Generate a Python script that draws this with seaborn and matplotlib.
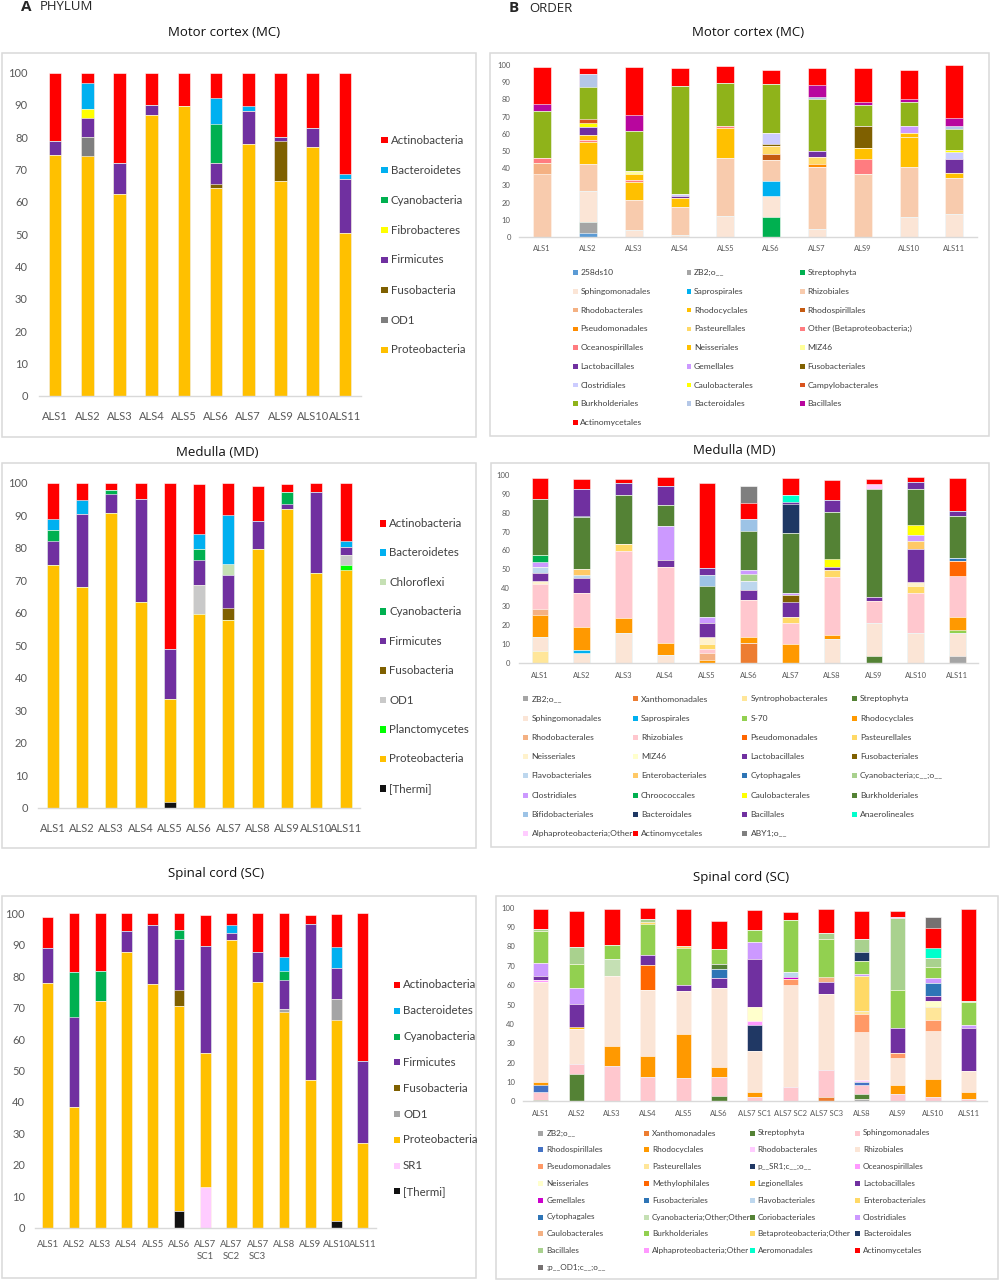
import matplotlib
matplotlib.use("Agg")
import matplotlib.pyplot as plt
from matplotlib.patches import Rectangle
import numpy as np
import seaborn as sns

W, H = 1000, 1282

# ---------------- phylum data (% per sample, bottom -> top) ----------------
MC_SAMPLES = ["ALS1", "ALS2", "ALS3", "ALS4", "ALS5", "ALS6", "ALS7", "ALS9", "ALS10", "ALS11"]
MC_PHYLUM = {
    "Proteobacteria": [74.5, 74.3, 62.5, 86.8, 89.8, 64.4, 77.8, 66.5, 76.9, 50.3],
    "OD1":            [0, 5.9, 0, 0, 0, 0, 0, 0, 0, 0],
    "Fusobacteria":   [0, 0, 0, 0, 0, 1.1, 0, 12.2, 0, 0],
    "Firmicutes":     [4.2, 5.7, 9.5, 3.2, 0, 6.5, 10.4, 1.5, 6.1, 16.8],
    "Fibrobacteres":  [0, 2.8, 0, 0, 0, 0, 0, 0, 0, 0],
    "Cyanobacteria":  [0, 0, 0, 0, 0, 12.0, 0, 0, 0, 0],
    "Bacteroidetes":  [0, 8.0, 0, 0, 0, 8.1, 1.6, 0, 0, 1.6],
    "Actinobacteria": [21.3, 3.1, 28.0, 10.0, 10.2, 7.7, 10.2, 19.6, 17.0, 31.3],
}

MD_SAMPLES = ["ALS1", "ALS2", "ALS3", "ALS4", "ALS5", "ALS6", "ALS7", "ALS8", "ALS9", "ALS10", "ALS11"]
MD_PHYLUM = {
    "[Thermi]":       [0, 0, 0, 0, 1.8, 0, 0, 0, 0, 0, 0],
    "Proteobacteria": [74.7, 68.0, 90.6, 63.4, 31.8, 59.6, 57.7, 79.6, 91.8, 72.3, 73.2],
    "Planctomycetes": [0, 0, 0, 0, 0, 0, 0, 0, 0, 0, 1.4],
    "OD1":            [0, 0, 0, 0, 0, 8.9, 0, 0, 0, 0, 3.3],
    "Fusobacteria":   [0, 0, 0, 0, 0, 0, 3.6, 0, 0, 0, 0],
    "Firmicutes":     [7.5, 22.4, 6.0, 31.6, 15.2, 7.7, 10.4, 8.6, 1.7, 24.9, 2.4],
    "Cyanobacteria":  [3.4, 0, 1.1, 0, 0, 3.5, 0, 0, 3.6, 0, 0],
    "Chloroflexi":    [0, 0, 0, 0, 0, 0, 3.3, 0, 0, 0, 0],
    "Bacteroidetes":  [3.2, 4.4, 0, 0, 0, 4.6, 15.0, 0, 0, 0, 1.7],
    "Actinobacteria": [11.2, 5.2, 2.3, 5.0, 51.2, 15.3, 10.0, 10.8, 2.4, 2.8, 18.0],
}

SC_SAMPLES = ["ALS1", "ALS2", "ALS3", "ALS4", "ALS5", "ALS6", "ALS7\nSC1", "ALS7\nSC2",
              "ALS7\nSC3", "ALS8", "ALS9", "ALS10", "ALS11"]
SC_PHYLUM = {
    "[Thermi]":       [0, 0, 0, 0, 0, 5.2, 0, 0, 0, 0, 0, 2.2, 0],
    "SR1":            [0, 0, 0, 0, 0, 0, 12.9, 0, 0, 0, 0, 0, 0],
    "Proteobacteria": [77.7, 38.4, 72.1, 87.6, 77.6, 65.2, 42.7, 91.6, 78.2, 68.5, 47.0, 64.0, 26.8],
    "OD1":            [0, 0, 0, 0, 0, 0, 0, 0, 0, 1.2, 0, 6.4, 0],
    "Fusobacteria":   [0, 0, 0, 0, 0, 5.2, 0, 0, 0, 0, 0, 0, 0],
    "Firmicutes":     [11.4, 28.5, 0, 6.7, 18.7, 16.1, 34.1, 2.1, 9.6, 9.0, 49.7, 10.1, 26.1],
    "Cyanobacteria":  [0, 14.5, 9.6, 0, 0, 3.1, 0, 0, 0, 3.0, 0, 0, 0],
    "Bacteroidetes":  [0, 0, 0, 0, 0, 0, 0, 2.5, 0, 4.4, 0, 6.7, 0],
    "Actinobacteria": [9.8, 18.6, 18.3, 5.7, 3.7, 5.2, 9.8, 3.8, 12.2, 13.9, 2.8, 10.4, 47.1],
}

PHYLUM_COLORS = {
    "Actinobacteria": "#FF0000", "Bacteroidetes": "#00B0F0", "Cyanobacteria": "#00B050",
    "Fibrobacteres": "#FFFF00", "Firmicutes": "#7030A0", "Fusobacteria": "#7F6000",
    "OD1": "#7F7F7F", "Proteobacteria": "#FFC000", "Chloroflexi": "#C5E0B4",
    "Planctomycetes": "#00FF00", "[Thermi]": "#111111", "SR1": "#FFCCFF",
}
OD1_LIGHT = {"MD": "#C9C9C9", "SC": "#A5A5A5"}

# ---------------- order data ----------------
MC_ORDERS = ["258ds10", "ZB2;o__", "Streptophyta", "Sphingomonadales", "Saprospirales",
             "Rhizobiales", "Rhodobacterales", "Rhodocyclales", "Rhodospirillales",
             "Pseudomonadales", "Pasteurellales", "Other (Betaproteobacteria;)",
             "Oceanospirillales", "Neisseriales", "MIZ46", "Lactobacillales", "Gemellales",
             "Fusobacteriales", "Clostridiales", "Caulobacterales", "Campylobacterales",
             "Burkholderiales", "Bacteroidales", "Bacillales", "Actinomycetales"]
MC_ORDER_COLORS = ["#5B9BD5", "#A5A5A5", "#00B050", "#FBE5D6", "#00B0F0", "#F8CBAD", "#F4B183",
                   "#FFC000", "#C55A11", "#FF8C00", "#FFD966", "#FF7C80", "#FF7C80", "#FFC000",
                   "#FFFF99", "#7030A0", "#CC99FF", "#7F6000", "#CCCCFF", "#FFFF00", "#D9531E",
                   "#8FB31A", "#B4C7E7", "#B8069E", "#FF0000"]
MC_ORDER = {
    "ALS1": [("Rhizobiales", 36.4), ("Rhodobacterales", 6.6), ("Oceanospirillales", 3.1),
             ("Burkholderiales", 27.3), ("Bacillales", 4.1), ("Actinomycetales", 21.5)],
    "ALS2": [("258ds10", 2.5), ("ZB2;o__", 6.2), ("Sphingomonadales", 18.2), ("Rhizobiales", 15.7),
             ("Rhodocyclales", 12.8), ("Other (Betaproteobacteria;)", 1.2), ("Neisseriales", 2.9),
             ("Lactobacillales", 4.5), ("Caulobacterales", 2.0), ("Campylobacterales", 2.6),
             ("Burkholderiales", 18.6), ("Bacteroidales", 7.8), ("Actinomycetales", 3.4)],
    "ALS3": [("Sphingomonadales", 3.9), ("Rhizobiales", 17.6), ("Rhodocyclales", 10.3),
             ("Other (Betaproteobacteria;)", 1.2), ("Neisseriales", 3.4), ("MIZ46", 2.0),
             ("Burkholderiales", 23.0), ("Bacillales", 9.5), ("Actinomycetales", 28.1)],
    "ALS4": [("Sphingomonadales", 1.4), ("Rhizobiales", 16.2), ("Rhodocyclales", 5.1),
             ("Lactobacillales", 1.1), ("Clostridiales", 1.0), ("Burkholderiales", 63.2),
             ("Actinomycetales", 10.0)],
    "ALS5": [("Sphingomonadales", 12.4), ("Rhizobiales", 33.5), ("Rhodocyclales", 17.7),
             ("Other (Betaproteobacteria;)", 1.1), ("Burkholderiales", 24.6), ("Actinomycetales", 10.3)],
    "ALS6": [("Streptophyta", 11.4), ("Sphingomonadales", 12.6), ("Saprospirales", 8.6),
             ("Rhizobiales", 12.0), ("Rhodospirillales", 3.8), ("Pasteurellales", 4.5),
             ("Fusobacteriales", 1.0), ("Clostridiales", 6.6), ("Burkholderiales", 28.6),
             ("Actinomycetales", 7.8)],
    "ALS7": [("Sphingomonadales", 4.8), ("Rhizobiales", 35.9), ("Pseudomonadales", 1.9),
             ("Pasteurellales", 3.9), ("Lactobacillales", 3.5), ("Burkholderiales", 30.0),
             ("Bacteroidales", 1.4), ("Bacillales", 7.0), ("Actinomycetales", 10.0)],
    "ALS9": [("Rhizobiales", 36.8), ("Oceanospirillales", 8.7), ("Neisseriales", 6.4),
             ("Fusobacteriales", 12.4), ("Burkholderiales", 12.4), ("Bacillales", 2.0),
             ("Actinomycetales", 19.3)],
    "ALS10": [("Sphingomonadales", 11.4), ("Rhizobiales", 29.1), ("Rhodocyclales", 17.6),
              ("Neisseriales", 2.2), ("Gemellales", 4.2), ("Burkholderiales", 13.8),
              ("Bacillales", 1.9), ("Actinomycetales", 16.7)],
    "ALS11": [("Sphingomonadales", 13.4), ("Rhizobiales", 20.7), ("Rhodocyclales", 3.3),
              ("Lactobacillales", 7.9), ("Clostridiales", 4.1), ("Caulobacterales", 1.4),
              ("Burkholderiales", 12.2), ("Bacteroidales", 1.3), ("Bacillales", 4.7),
              ("Actinomycetales", 31.0)],
}

MD_ORDERS = ["ZB2;o__", "Xanthomonadales", "Syntrophobacterales", "Streptophyta",
             "Sphingomonadales", "Saprospirales", "S-70", "Rhodocyclales", "Rhodobacterales",
             "Rhizobiales", "Pseudomonadales", "Pasteurellales", "Neisseriales", "MIZ46",
             "Lactobacillales", "Fusobacteriales", "Flavobacteriales", "Enterobacteriales",
             "Cytophagales", "Cyanobacteria;c__;o__", "Clostridiales", "Chroococcales",
             "Caulobacterales", "Burkholderiales", "Bifidobacteriales", "Bacteroidales",
             "Bacillales", "Anaerolineales", "Alphaproteobacteria;Other", "Actinomycetales",
             "ABY1;o__"]
MD_ORDER_COLORS = ["#A5A5A5", "#ED7D31", "#FFE699", "#548235", "#FBE5D6", "#00B0F0", "#92D050",
                   "#FF9900", "#F4B183", "#FFC7CE", "#FF6600", "#FFD966", "#FFF2CC", "#FFFFCC",
                   "#7030A0", "#7F6000", "#BDD7EE", "#FFC966", "#2E75B6", "#A9D18E", "#CC99FF",
                   "#00B050", "#FFFF00", "#548235", "#9DC3E6", "#1F3864", "#7030A0", "#00FFCC",
                   "#FFCCFF", "#FF0000", "#7F7F7F"]
MD_ORDER = {
    "ALS1": [("Syntrophobacterales", 6.0), ("Sphingomonadales", 7.9), ("Rhodocyclales", 11.5),
             ("Rhodobacterales", 3.4), ("Rhizobiales", 13.2), ("Neisseriales", 1.4),
             ("Lactobacillales", 4.6), ("Flavobacteriales", 3.2), ("Clostridiales", 2.7),
             ("Chroococcales", 3.6), ("Burkholderiales", 30.0), ("Actinomycetales", 10.9)],
    "ALS2": [("Sphingomonadales", 5.0), ("Saprospirales", 1.6), ("Rhodocyclales", 12.6),
             ("Rhizobiales", 18.2), ("Lactobacillales", 7.6), ("Flavobacteriales", 1.6),
             ("Enterobacteriales", 3.2), ("Burkholderiales", 27.8), ("Bacteroidales", 0.7),
             ("Bacillales", 14.6), ("Actinomycetales", 5.3)],
    "ALS3": [("Sphingomonadales", 16.0), ("Rhodocyclales", 8.0), ("Rhizobiales", 35.6),
             ("Pasteurellales", 3.7), ("Burkholderiales", 26.4), ("Bacillales", 6.0),
             ("Actinomycetales", 2.2)],
    "ALS4": [("Sphingomonadales", 4.1), ("Rhodocyclales", 6.4), ("Rhizobiales", 40.7),
             ("Lactobacillales", 3.6), ("Clostridiales", 18.0), ("Burkholderiales", 11.5),
             ("Bacillales", 9.8), ("Actinomycetales", 4.8)],
    "ALS5": [("Rhodocyclales", 1.4), ("Rhodobacterales", 3.6), ("Rhizobiales", 2.3),
             ("Pasteurellales", 2.7), ("Neisseriales", 3.5), ("Lactobacillales", 7.5),
             ("Clostridiales", 3.4), ("Burkholderiales", 16.7), ("Bifidobacteriales", 5.5),
             ("Bacillales", 3.9), ("Actinomycetales", 45.2)],
    "ALS6": [("Xanthomonadales", 10.3), ("Rhodocyclales", 3.2), ("Rhizobiales", 20.0),
             ("Lactobacillales", 5.5), ("Flavobacteriales", 4.6), ("Cyanobacteria;c__;o__", 3.6),
             ("Clostridiales", 2.3), ("Burkholderiales", 20.6), ("Bifidobacteriales", 6.6),
             ("Actinomycetales", 8.7), ("ABY1;o__", 8.9)],
    "ALS7": [("Rhodocyclales", 9.8), ("Rhizobiales", 11.6), ("Pasteurellales", 3.2),
             ("Lactobacillales", 7.6), ("Fusobacteriales", 3.7), ("Clostridiales", 1.5),
             ("Burkholderiales", 32.0), ("Bacteroidales", 15.3), ("Bacillales", 1.2),
             ("Anaerolineales", 3.4), ("Actinomycetales", 9.5)],
    "ALS8": [("Sphingomonadales", 12.5), ("Rhodocyclales", 2.1), ("Rhizobiales", 31.0),
             ("Pasteurellales", 3.9), ("Lactobacillales", 1.7), ("Caulobacterales", 4.3),
             ("Burkholderiales", 25.1), ("Bacillales", 6.2), ("Actinomycetales", 10.9)],
    "ALS9": [("Streptophyta", 3.4), ("Sphingomonadales", 17.8), ("Rhizobiales", 11.5),
             ("Lactobacillales", 2.2), ("Burkholderiales", 57.8),
             ("Alphaproteobacteria;Other", 2.9), ("Actinomycetales", 2.3)],
    "ALS10": [("Sphingomonadales", 16.0), ("Rhizobiales", 21.4), ("Pasteurellales", 3.7),
              ("Neisseriales", 2.0), ("Lactobacillales", 17.8), ("Enterobacteriales", 3.9),
              ("Clostridiales", 3.2), ("Caulobacterales", 5.7), ("Burkholderiales", 19.0),
              ("Bacillales", 3.9), ("Actinomycetales", 2.7)],
    "ALS11": [("ZB2;o__", 3.4), ("Sphingomonadales", 12.6), ("S-70", 1.4), ("Rhodocyclales", 7.2),
              ("Rhizobiales", 21.5), ("Pseudomonadales", 8.3), ("Cytophagales", 1.5),
              ("Burkholderiales", 22.4), ("Bacillales", 2.7), ("Actinomycetales", 17.4)],
}

SC_ORDERS = ["ZB2;o__", "Xanthomonadales", "Streptophyta", "Sphingomonadales",
             "Rhodospirillales", "Rhodocyclales", "Rhodobacterales", "Rhizobiales",
             "Pseudomonadales", "Pasteurellales", "p__SR1;c__;o__", "Oceanospirillales",
             "Neisseriales", "Methylophilales", "Legionellales", "Lactobacillales", "Gemellales",
             "Fusobacteriales", "Flavobacteriales", "Enterobacteriales", "Cytophagales",
             "Cyanobacteria;Other;Other", "Coriobacteriales", "Clostridiales", "Caulobacterales",
             "Burkholderiales", "Betaproteobacteria;Other", "Bacteroidales", "Bacillales",
             "Alphaproteobacteria;Other", "Aeromonadales", "Actinomycetales", ";p__OD1;c__;o__"]
SC_ORDER_COLORS = ["#A5A5A5", "#ED7D31", "#548235", "#FFC7CE", "#4472C4", "#FF9900", "#FFCCFF",
                   "#FBE5D6", "#FF9966", "#FFE699", "#203864", "#FF99FF", "#FFFFCC", "#FF6600",
                   "#FFC000", "#7030A0", "#CC00CC", "#2E75B6", "#BDD7EE", "#FFD966", "#2E75B6",
                   "#C5E0B4", "#548235", "#CC99FF", "#F4B183", "#92D050", "#FFD966", "#1F3864",
                   "#A9D18E", "#FF99FF", "#00FFCC", "#FF0000", "#767171"]
SC_ORDER_SAMPLES = ["ALS1", "ALS2", "ALS3", "ALS4", "ALS5", "ALS6", "ALS7 SC1", "ALS7 SC2",
                    "ALS7 SC3", "ALS8", "ALS9", "ALS10", "ALS11"]
SC_ORDER = {
    "ALS1": [("Streptophyta", 0.7), ("Sphingomonadales", 4.3), ("Rhodospirillales", 3.6),
             ("Rhodocyclales", 1.4), ("Rhizobiales", 51.6), ("Oceanospirillales", 0.9),
             ("Lactobacillales", 2.0), ("Clostridiales", 7.1), ("Burkholderiales", 16.4),
             ("Bacillales", 1.0), ("Actinomycetales", 10.5)],
    "ALS2": [("Streptophyta", 14.1), ("Sphingomonadales", 5.0), ("Rhizobiales", 18.2),
             ("Legionellales", 1.3), ("Lactobacillales", 11.8), ("Clostridiales", 8.1),
             ("Burkholderiales", 12.6), ("Bacillales", 8.6), ("Actinomycetales", 18.6)],
    "ALS3": [("Sphingomonadales", 18.1), ("Rhodocyclales", 10.5), ("Rhizobiales", 35.9),
             ("Cyanobacteria;Other;Other", 9.2), ("Burkholderiales", 6.8), ("Actinomycetales", 18.6)],
    "ALS4": [("Sphingomonadales", 12.6), ("Rhodocyclales", 10.8), ("Rhizobiales", 34.1),
             ("Methylophilales", 13.1), ("Lactobacillales", 5.1), ("Burkholderiales", 15.9),
             ("Betaproteobacteria;Other", 0.8), ("Bacillales", 1.7), ("Actinomycetales", 5.7)],
    "ALS5": [("Sphingomonadales", 12.2), ("Rhodocyclales", 22.4), ("Rhizobiales", 22.4),
             ("Lactobacillales", 3.1), ("Burkholderiales", 19.1),
             ("Betaproteobacteria;Other", 1.0), ("Actinomycetales", 18.9)],
    "ALS6": [("Streptophyta", 2.9), ("Sphingomonadales", 9.5), ("Rhodocyclales", 5.2),
             ("Rhizobiales", 40.7), ("Lactobacillales", 5.2), ("Cytophagales", 5.0),
             ("Coriobacteriales", 2.2), ("Burkholderiales", 8.0), ("Actinomycetales", 14.4)],
    "ALS7 SC1": [("Sphingomonadales", 2.4), ("Rhodocyclales", 2.2), ("Rhizobiales", 21.4),
                 ("p__SR1;c__;o__", 13.4), ("Oceanospirillales", 2.3), ("Neisseriales", 6.8),
                 ("Lactobacillales", 25.0), ("Clostridiales", 8.6), ("Burkholderiales", 6.2),
                 ("Actinomycetales", 10.7)],
    "ALS7 SC2": [("Sphingomonadales", 7.4), ("Rhizobiales", 52.8), ("Pseudomonadales", 2.8),
                 ("Gemellales", 1.4), ("Flavobacteriales", 2.6), ("Burkholderiales", 26.6),
                 ("Actinomycetales", 4.0)],
    "ALS7 SC3": [("Xanthomonadales", 2.4), ("Sphingomonadales", 13.6), ("Rhizobiales", 39.6),
                 ("Lactobacillales", 5.8), ("Caulobacterales", 2.6), ("Burkholderiales", 19.6),
                 ("Bacillales", 3.3), ("Actinomycetales", 12.6)],
    "ALS8": [("ZB2;o__", 1.0), ("Streptophyta", 3.0), ("Sphingomonadales", 4.6),
             ("Rhodospirillales", 1.4), ("Rhodobacterales", 1.0), ("Rhizobiales", 24.6),
             ("Pseudomonadales", 9.5), ("Pasteurellales", 1.5), ("Enterobacteriales", 18.3),
             ("Clostridiales", 1.0), ("Burkholderiales", 6.7), ("Bacteroidales", 4.7),
             ("Bacillales", 6.5), ("Actinomycetales", 14.5)],
    "ALS9": [("Sphingomonadales", 3.6), ("Rhodocyclales", 4.7), ("Rhizobiales", 14.2),
             ("Pseudomonadales", 2.6), ("Lactobacillales", 12.6), ("Burkholderiales", 19.8),
             ("Bacillales", 37.0), ("Alphaproteobacteria;Other", 0.9), ("Actinomycetales", 2.9)],
    "ALS10": [("Sphingomonadales", 2.4), ("Rhodocyclales", 9.0), ("Rhizobiales", 24.9),
              ("Pseudomonadales", 5.7), ("Pasteurellales", 6.5), ("Neisseriales", 3.1),
              ("Lactobacillales", 3.0), ("Cytophagales", 6.5), ("Clostridiales", 2.4),
              ("Burkholderiales", 6.0), ("Bacillales", 4.7), ("Aeromonadales", 5.1),
              ("Actinomycetales", 10.4), (";p__OD1;c__;o__", 5.3)],
    "ALS11": [("Sphingomonadales", 1.4), ("Rhodocyclales", 3.2), ("Rhizobiales", 10.9),
              ("Lactobacillales", 22.5), ("Clostridiales", 1.4), ("Burkholderiales", 11.9),
              ("Bacillales", 0.7), ("Actinomycetales", 47.5)],
}

# ---------------- helpers ----------------
sns.set_theme(style="white")
plt.rcParams["font.family"] = ["Lato", "DejaVu Sans"]
TICK_COLOR = "#595959"
TEXT_COLOR = "#404040"


def px_axes(fig, x0, y0, x1, y1):
    return fig.add_axes([x0 / W, 1 - y1 / H, (x1 - x0) / W, (y1 - y0) / H])


def px_box(fig, x0, y0, x1, y1):
    fig.add_artist(Rectangle((x0 / W, 1 - y1 / H), (x1 - x0) / W, (y1 - y0) / H,
                             transform=fig.transFigure, fill=False,
                             edgecolor="#D9D9D9", linewidth=1.1))


def px_text(fig, x, y, s, **kw):
    fig.text(x / W, 1 - y / H, s, **kw)


def stacked_bars(ax, samples, layers, colors, width):
    # layers: list of (name, values) from bottom to top; draw cumulative tops, tallest first
    vals = np.array([v for _, v in layers], dtype=float)
    tops = np.cumsum(vals, axis=0)
    for i in range(len(layers) - 1, -1, -1):
        if not vals[i].any():
            continue
        name = layers[i][0]
        sns.barplot(x=samples, y=tops[i], order=samples, color=colors[name], width=width,
                    saturation=1, errorbar=None, edgecolor="white", linewidth=0.4, ax=ax)


def style_axes(ax, fs, ypad, xpad):
    ax.set_ylim(0, 100)
    ax.set_yticks(range(0, 101, 10))
    ax.set_xlabel("")
    ax.set_ylabel("")
    for s in ["top", "right", "left"]:
        ax.spines[s].set_visible(False)
    ax.spines["bottom"].set_color("#D9D9D9")
    ax.spines["bottom"].set_linewidth(1.0)
    ax.tick_params(axis="both", length=0, labelsize=fs, colors=TICK_COLOR)
    ax.tick_params(axis="y", pad=ypad)
    ax.tick_params(axis="x", pad=xpad)
    ax.patch.set_alpha(0)


def legend_grid(fig, labels, colors, x0, y0, dx, dy, ncol, sq, gap, fs):
    for i, lab in enumerate(labels):
        r, c = divmod(i, ncol)
        x = x0 + c * dx
        y = y0 + r * dy
        fig.add_artist(Rectangle(((x - sq / 2) / W, 1 - (y + sq / 2) / H), sq / W, sq / H,
                                 transform=fig.transFigure, facecolor=colors[lab],
                                 edgecolor="none"))
        px_text(fig, x + sq / 2 + gap, y, lab, fontsize=fs, va="center", ha="left",
                color=TEXT_COLOR)


def order_layers(samples, orders, table):
    layers = []
    for name in orders:
        vals = []
        for s in samples:
            vals.append(sum(v for n, v in table[s] if n == name))
        layers.append((name, vals))
    return layers


fig = plt.figure(figsize=(W / 100, H / 100), dpi=100)

# panel letters
px_text(fig, 21, 7, "A", fontsize=11, fontweight="bold", va="center", ha="left",
        family=["Open Sans", "DejaVu Sans"])
px_text(fig, 40, 6, "PHYLUM", fontsize=9.5, va="center", ha="left",
        family=["Open Sans", "DejaVu Sans"])
px_text(fig, 509, 8, "B", fontsize=11, fontweight="bold", va="center", ha="left",
        family=["Open Sans", "DejaVu Sans"])
px_text(fig, 529, 8, "ORDER", fontsize=9.5, va="center", ha="left",
        family=["Open Sans", "DejaVu Sans"])

title_kw = dict(fontsize=9.5, va="center", ha="center", color="#111111",
                family=["Open Sans", "DejaVu Sans"])

# ---------------- left: phylum ----------------
# Motor cortex
px_box(fig, 2, 53, 476, 437)
px_text(fig, 224, 33, "Motor cortex (MC)", **title_kw)
ax = px_axes(fig, 39, 72.7, 361, 395.7)
layers = list(MC_PHYLUM.items())
stacked_bars(ax, MC_SAMPLES, layers, PHYLUM_COLORS, 0.39)
style_axes(ax, 8, 8, 11)
legend_grid(fig, [n for n, _ in layers][::-1], PHYLUM_COLORS, 384.7, 140, 0, 30, 1, 6.5, 3, 8.3)

# Medulla
md_colors = dict(PHYLUM_COLORS, OD1=OD1_LIGHT["MD"])
px_box(fig, 2, 463, 476, 848)
px_text(fig, 217.5, 452.7, "Medulla (MD)", **title_kw)
ax = px_axes(fig, 38, 482.7, 360.3, 807.7)
layers = list(MD_PHYLUM.items())
stacked_bars(ax, MD_SAMPLES, layers, md_colors, 0.41)
style_axes(ax, 8, 7.4, 11)
legend_grid(fig, [n for n, _ in layers][::-1], md_colors, 383, 523.3, 0, 29.45, 1, 6.5, 3, 8.3)

# Spinal cord
sc_colors = dict(PHYLUM_COLORS, OD1=OD1_LIGHT["SC"])
px_box(fig, 2, 896, 476, 1278)
px_text(fig, 216, 874, "Spinal cord (SC)", **title_kw)
ax = px_axes(fig, 34.5, 913.3, 375.9, 1227.7)
layers = list(SC_PHYLUM.items())
stacked_bars(ax, SC_SAMPLES, layers, sc_colors, 0.41)
style_axes(ax, 8, 6.8, 9)
ax.tick_params(axis="x", labelsize=6.9)
ax.set_xticks(np.arange(-0.5, len(SC_SAMPLES), 1), minor=True)
ax.tick_params(axis="x", which="minor", length=4, color="#D9D9D9", width=0.8)
for lab in ax.get_xticklabels():
    lab.set_linespacing(1.45)
legend_grid(fig, [n for n, _ in layers][::-1], sc_colors, 397, 985, 0, 25.8, 1, 6, 3, 8.3)

# ---------------- right: order ----------------
# Motor cortex
mc_oc = dict(zip(MC_ORDERS, MC_ORDER_COLORS))
px_box(fig, 490, 53, 989, 436)
px_text(fig, 748, 33, "Motor cortex (MC)", **title_kw)
ax = px_axes(fig, 519.3, 65, 977.3, 237)
stacked_bars(ax, MC_SAMPLES, order_layers(MC_SAMPLES, MC_ORDERS, MC_ORDER), mc_oc, 0.39)
style_axes(ax, 5.5, 6.2, 6)
legend_grid(fig, MC_ORDERS, mc_oc, 575.3, 272.7, 113.7, 18.72, 3, 4.7, 2.7, 6.1)

# Medulla
md_oc = dict(zip(MD_ORDERS, MD_ORDER_COLORS))
px_box(fig, 491, 463, 989, 847)
px_text(fig, 734, 451, "Medulla (MD)", **title_kw)
ax = px_axes(fig, 519.1, 475.3, 978.2, 662.7)
stacked_bars(ax, MD_SAMPLES, order_layers(MD_SAMPLES, MD_ORDERS, MD_ORDER), md_oc, 0.40)
style_axes(ax, 5.5, 6.5, 7)
legend_grid(fig, MD_ORDERS, md_oc, 525.8, 699, 109.5, 19.2, 4, 5, 3.3, 6.1)

# Spinal cord
sc_oc = dict(zip(SC_ORDERS, SC_ORDER_COLORS))
px_box(fig, 495.7, 895.7, 998, 1279)
px_text(fig, 741, 878, "Spinal cord (SC)", **title_kw)
ax = px_axes(fig, 523, 907.7, 986.5, 1101.3)
stacked_bars(ax, SC_ORDER_SAMPLES, order_layers(SC_ORDER_SAMPLES, SC_ORDERS, SC_ORDER),
             sc_oc, 0.43)
style_axes(ax, 5.5, 5.8, 6)
legend_grid(fig, SC_ORDERS, sc_oc, 540.8, 1133, 105.6, 16.8, 4, 5, 3, 5.9)

fig.savefig("out.png", dpi=100)
